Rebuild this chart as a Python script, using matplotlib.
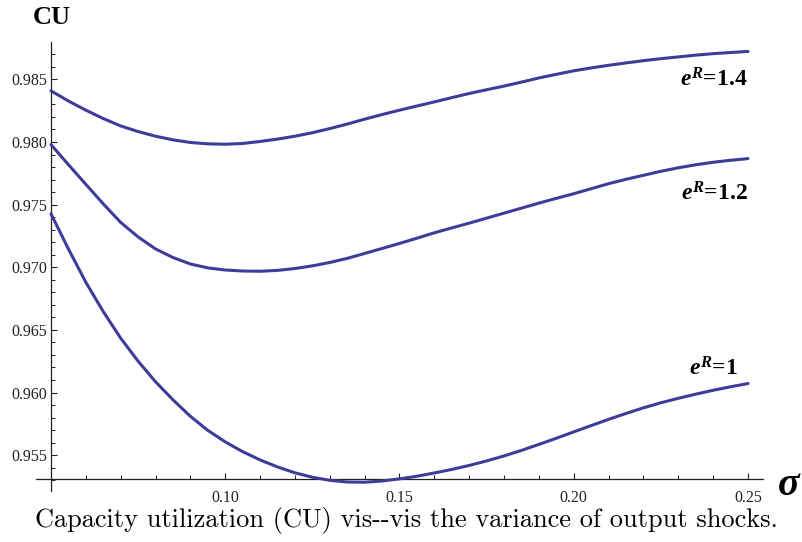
import matplotlib
matplotlib.use("Agg")
import matplotlib.pyplot as plt
from matplotlib.ticker import MultipleLocator, FormatStrFormatter

plt.rcParams["mathtext.fontset"] = "custom"
plt.rcParams["mathtext.rm"] = "Liberation Serif:bold"
plt.rcParams["mathtext.bf"] = "Liberation Serif:bold"
plt.rcParams["mathtext.it"] = "Liberation Serif:italic:bold"

# Standard deviation of output shocks
sigma = [0.050, 0.055, 0.060, 0.065, 0.070, 0.075, 0.080, 0.085, 0.090,
         0.095, 0.100, 0.105, 0.110, 0.115, 0.120, 0.125, 0.130, 0.135,
         0.140, 0.145, 0.150, 0.155, 0.160, 0.165, 0.170, 0.175, 0.180,
         0.185, 0.190, 0.195, 0.200, 0.205, 0.210, 0.215, 0.220, 0.225,
         0.230, 0.235, 0.240, 0.245, 0.250]

# Capacity utilization for each gross return e^R
cu_14 = [0.98408, 0.98327, 0.98254, 0.98187, 0.98128, 0.98083, 0.98046,
         0.98017, 0.97996, 0.97985, 0.97982, 0.97988, 0.98004, 0.98023,
         0.98046, 0.98074, 0.98107, 0.98143, 0.98182, 0.98219, 0.98254,
         0.98287, 0.98320, 0.98354, 0.98387, 0.98417, 0.98446, 0.98478,
         0.98511, 0.98540, 0.98568, 0.98591, 0.98612, 0.98631, 0.98649,
         0.98665, 0.98679, 0.98693, 0.98705, 0.98714, 0.98723]
cu_12 = [0.97979, 0.97819, 0.97662, 0.97506, 0.97358, 0.97242, 0.97146,
         0.97078, 0.97026, 0.96995, 0.96978, 0.96970, 0.96968, 0.96975,
         0.96990, 0.97011, 0.97038, 0.97071, 0.97110, 0.97150, 0.97190,
         0.97232, 0.97275, 0.97314, 0.97352, 0.97392, 0.97432, 0.97472,
         0.97512, 0.97550, 0.97587, 0.97627, 0.97667, 0.97702, 0.97734,
         0.97766, 0.97794, 0.97818, 0.97838, 0.97854, 0.97867]
cu_10 = [0.97427, 0.97146, 0.96880, 0.96646, 0.96434, 0.96250, 0.96086,
         0.95942, 0.95810, 0.95698, 0.95606, 0.95528, 0.95462, 0.95406,
         0.95359, 0.95324, 0.95299, 0.95286, 0.95284, 0.95294, 0.95311,
         0.95332, 0.95358, 0.95386, 0.95418, 0.95454, 0.95494, 0.95538,
         0.95586, 0.95635, 0.95686, 0.95736, 0.95786, 0.95833, 0.95878,
         0.95918, 0.95954, 0.95987, 0.96018, 0.96046, 0.96072]

curve_labels = [r"$e^{R}$=1.4", r"$e^{R}$=1.2", r"$e^{R}$=1"]
x_ticks = [0.10, 0.15, 0.20, 0.25]
y_ticks = [0.955, 0.960, 0.965, 0.970, 0.975, 0.980, 0.985]

line_color = "#3d3d99"

fig = plt.figure(figsize=(8.03, 5.42), dpi=100)
ax = fig.add_axes([36 / 803, 1 - 491 / 542, 727 / 803, 449 / 542])

for cu in (cu_14, cu_12, cu_10):
    ax.plot(sigma, cu, color=line_color, lw=2.2, solid_capstyle="round",
            solid_joinstyle="round", clip_on=False, zorder=3)

ax.set_xlim(0.0457, 0.2543)
ax.set_ylim(0.95214, 0.98798)

for side in ("top", "right"):
    ax.spines[side].set_visible(False)
ax.spines["left"].set_position(("data", 0.05))
ax.spines["bottom"].set_position(("data", 0.9531))
for side in ("left", "bottom"):
    ax.spines[side].set_linewidth(0.9)
    ax.spines[side].set_color("#222222")

ax.set_xticks(x_ticks)
ax.set_yticks(y_ticks)
ax.xaxis.set_minor_locator(MultipleLocator(0.01))
ax.yaxis.set_minor_locator(MultipleLocator(0.001))
ax.xaxis.set_major_formatter(FormatStrFormatter("%.2f"))
ax.yaxis.set_major_formatter(FormatStrFormatter("%.3f"))
ax.tick_params(which="major", direction="in", length=4.5, width=0.8,
               color="#222222", labelsize=11.5, labelcolor="#222222")
ax.tick_params(which="minor", direction="in", length=2.6, width=0.7,
               color="#222222")
ax.tick_params(axis="x", which="major", pad=8)
ax.tick_params(axis="y", which="major", pad=3)
for lab in ax.get_xticklabels() + ax.get_yticklabels():
    lab.set_fontfamily("Liberation Serif")

# Curve labels next to the right-hand ends
offsets = [(0, -29), (0, -35), (-10, 15)]
for cu, text, (dx, dy) in zip((cu_14, cu_12, cu_10), curve_labels, offsets):
    ax.annotate(text, xy=(sigma[-1], cu[-1]), xytext=(dx, dy),
                textcoords="offset pixels", ha="right", va="center",
                fontsize=17, fontweight="bold", family="Liberation Serif",
                color="black")

fig.text(33 / 803, 1 - 17 / 542, "CU", ha="left", va="center", fontsize=19,
         fontweight="bold", family="Liberation Serif")
fig.text(789 / 803, 1 - 484 / 542, r"$\sigma$", ha="center", va="center",
         fontsize=29)
fig.text(406 / 803, 1 - 520 / 542,
         "Capacity utilization (CU) vis--vis the variance of output shocks.",
         ha="center", va="center", fontsize=19, family="cmr10")

fig.savefig("out.png", dpi=100)
